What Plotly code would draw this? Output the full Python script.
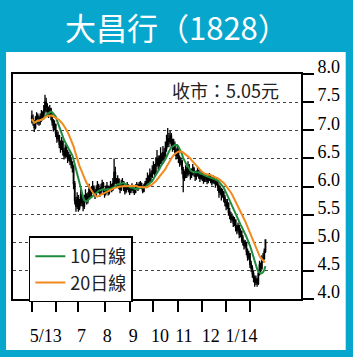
import plotly.graph_objects as go
import pandas as pd

# ---------------- data ----------------
opens = [7.25,7.20,7.15,7.05,7.18,7.25,7.20,7.15,7.22,7.28,7.25,7.35,7.50,7.42,7.35,7.30,7.38,7.25,7.15,7.05,
         7.10,6.95,6.85,6.90,6.75,6.70,6.80,6.62,6.55,6.68,6.60,6.50,6.55,6.45,6.40,6.35,6.05,5.75,5.65,5.80,
         5.62,5.70,5.85,5.72,5.65,5.78,5.85,5.75,5.82,5.95,5.88,5.92,6.00,5.90,5.85,5.95,6.02,5.95,5.90,5.98,
         6.05,5.92,5.88,5.95,6.00,5.90,5.95,6.02,5.95,6.05,6.25,6.10,6.05,6.12,6.00,5.95,6.05,6.08,5.98,5.92,
         5.98,6.02,5.95,5.90,5.96,6.00,5.94,5.90,5.98,6.02,5.97,6.03,6.05,6.00,5.92,6.00,6.05,6.08,6.15,6.10,
         6.22,6.18,6.28,6.35,6.25,6.40,6.50,6.38,6.45,6.55,6.48,6.60,6.55,6.68,6.75,6.85,6.80,6.90,6.78,6.70,
         6.75,6.62,6.55,6.65,6.50,6.42,6.45,6.30,6.15,6.20,6.30,6.22,6.35,6.28,6.20,6.25,6.32,6.25,6.18,6.22,
         6.28,6.20,6.15,6.22,6.18,6.12,6.18,6.15,6.10,6.15,6.18,6.12,6.08,6.14,6.10,6.05,6.10,6.00,5.90,5.95,
         5.85,5.90,5.80,5.72,5.65,5.70,5.55,5.50,5.42,5.45,5.35,5.40,5.28,5.22,5.30,5.15,5.20,5.10,5.02,4.95,
         5.00,4.85,4.75,4.80,4.62,4.55,4.45,4.38,4.30,4.35,4.28,4.45,4.60,4.55,4.70,4.72,4.85]
highs = [7.35,7.28,7.18,7.25,7.32,7.30,7.26,7.30,7.36,7.34,7.45,7.63,7.58,7.48,7.42,7.45,7.40,7.30,7.20,7.18,
         7.12,7.00,6.98,6.92,6.82,6.88,6.82,6.68,6.75,6.72,6.65,6.62,6.58,6.52,6.45,6.38,6.10,5.82,5.90,5.85,
         5.78,5.95,5.90,5.78,5.85,5.95,5.88,5.90,6.05,5.98,6.00,6.10,6.02,5.95,6.02,6.10,6.05,5.98,6.05,6.12,
         6.08,5.96,6.02,6.08,6.02,6.00,6.10,6.05,6.15,6.50,6.35,6.15,6.20,6.15,6.05,6.12,6.15,6.10,6.00,6.04,
         6.08,6.04,5.98,6.02,6.06,6.02,5.97,6.04,6.08,6.05,6.08,6.10,6.07,6.02,6.05,6.10,6.15,6.25,6.20,6.32,
         6.28,6.38,6.45,6.40,6.52,6.65,6.55,6.55,6.70,6.60,6.72,6.68,6.80,6.92,7.04,6.95,7.00,6.95,6.85,6.85,
         6.80,6.68,6.75,6.68,6.55,6.52,6.48,6.35,6.28,6.38,6.35,6.45,6.40,6.32,6.32,6.40,6.35,6.28,6.28,6.35,
         6.30,6.24,6.28,6.25,6.20,6.24,6.22,6.18,6.20,6.24,6.20,6.15,6.20,6.16,6.12,6.15,6.12,6.04,6.02,5.98,
         5.96,5.92,5.85,5.78,5.78,5.72,5.62,5.55,5.52,5.48,5.46,5.42,5.32,5.36,5.32,5.26,5.22,5.14,5.06,5.05,
         5.02,4.90,4.86,4.82,4.68,4.60,4.50,4.42,4.42,4.38,4.52,4.68,4.65,4.78,4.82,4.90,5.05]
lows = [7.12,7.08,6.97,7.02,7.12,7.10,7.08,7.10,7.15,7.18,7.20,7.30,7.32,7.25,7.22,7.25,7.18,7.08,6.98,7.00,
        6.88,6.78,6.80,6.68,6.60,6.65,6.55,6.48,6.50,6.52,6.42,6.45,6.38,6.32,6.25,5.95,5.68,5.55,5.60,5.55,
        5.58,5.65,5.65,5.56,5.60,5.72,5.68,5.70,5.78,5.80,5.82,5.88,5.84,5.78,5.82,5.90,5.88,5.82,5.86,5.94,
        5.86,5.80,5.84,5.90,5.84,5.86,5.92,5.90,5.92,6.00,6.05,5.98,6.00,5.95,5.88,5.92,6.00,5.92,5.86,5.88,
        5.94,5.90,5.85,5.88,5.92,5.88,5.85,5.88,5.95,5.92,5.95,6.00,5.95,5.88,5.90,5.98,6.02,6.05,6.02,6.08,
        6.10,6.15,6.22,6.18,6.22,6.35,6.30,6.32,6.40,6.38,6.45,6.45,6.50,6.62,6.70,6.70,6.75,6.70,6.62,6.65,
        6.55,6.48,6.50,6.42,6.35,6.38,6.22,5.90,6.10,6.15,6.15,6.18,6.22,6.12,6.15,6.20,6.18,6.10,6.12,6.18,
        6.14,6.08,6.12,6.10,6.05,6.08,6.08,6.04,6.06,6.10,6.06,6.02,6.05,6.04,5.98,6.02,5.92,5.80,5.85,5.75,
        5.80,5.72,5.65,5.58,5.60,5.48,5.42,5.35,5.38,5.28,5.30,5.20,5.15,5.18,5.08,5.10,5.02,4.95,4.88,4.90,
        4.78,4.68,4.70,4.55,4.48,4.38,4.30,4.22,4.25,4.22,4.25,4.42,4.48,4.52,4.65,4.70,4.82]
closes = [7.20,7.15,7.05,7.18,7.25,7.20,7.15,7.22,7.28,7.25,7.35,7.50,7.42,7.35,7.30,7.38,7.25,7.15,7.05,7.10,
          6.95,6.85,6.90,6.75,6.70,6.80,6.62,6.55,6.68,6.60,6.50,6.55,6.45,6.40,6.35,6.05,5.75,5.65,5.80,5.62,
          5.70,5.85,5.72,5.65,5.78,5.85,5.75,5.82,5.95,5.88,5.92,6.00,5.90,5.85,5.95,6.02,5.95,5.90,5.98,6.05,
          5.92,5.88,5.95,6.00,5.90,5.95,6.02,5.95,6.05,6.25,6.10,6.05,6.12,6.00,5.95,6.05,6.08,5.98,5.92,5.98,
          6.02,5.95,5.90,5.96,6.00,5.94,5.90,5.98,6.02,5.97,6.03,6.05,6.00,5.92,6.00,6.05,6.08,6.15,6.10,6.22,
          6.18,6.28,6.35,6.25,6.40,6.50,6.38,6.45,6.55,6.48,6.60,6.55,6.68,6.75,6.85,6.80,6.90,6.78,6.70,6.75,
          6.62,6.55,6.65,6.50,6.42,6.45,6.30,6.15,6.20,6.30,6.22,6.35,6.28,6.20,6.25,6.32,6.25,6.18,6.22,6.28,
          6.20,6.15,6.22,6.18,6.12,6.18,6.15,6.10,6.15,6.18,6.12,6.08,6.14,6.10,6.05,6.10,6.00,5.90,5.95,5.85,
          5.90,5.80,5.72,5.65,5.70,5.55,5.50,5.42,5.45,5.35,5.40,5.28,5.22,5.30,5.15,5.20,5.10,5.02,4.95,5.00,
          4.85,4.75,4.80,4.62,4.55,4.45,4.38,4.30,4.35,4.28,4.45,4.60,4.55,4.70,4.72,4.85,5.05]

days = list(range(len(closes)))                      # trading-day index
month_ticks = [0, 20, 39, 61, 82, 102, 122.5, 143, 162.5, 183]   # month boundaries (day index)
label_pos = [11.7, 41.7, 63.3, 85, 107.5, 127.5, 150, 175.8]
label_text = ["5/13", "7", "8", "9", "10", "11", "12", "1/14"]
y_ticks = [4.0, 4.5, 5.0, 5.5, 6.0, 6.5, 7.0, 7.5, 8.0]
y_text = ["4.0", "4.5", "5.0", "5.5", "6.0", "6.5", "7.0", "7.5", "8.0"]

title_text = "大昌行（1828）"
close_text = "收市：5.05元"
ma_names = ["10日線", "20日線"]

# ---------------- figure ----------------
s = pd.Series(closes)
ma10 = s.rolling(10, min_periods=1).mean()
ma20 = s.rolling(20, min_periods=1).mean()

TEAL = "#07a6cd"
GREEN = "#1e8c3c"
ORANGE = "#f28a1e"
SERIF = "Liberation Serif, Times New Roman, serif"
CJK = "Noto Sans CJK TC, Noto Sans, sans-serif"

fig = go.Figure()
fig.add_trace(go.Candlestick(
    x=days, open=opens, high=highs, low=lows, close=closes,
    increasing=dict(line=dict(color="black", width=1.3), fillcolor="black"),
    decreasing=dict(line=dict(color="black", width=1.3), fillcolor="black"),
    whiskerwidth=0, showlegend=False, hoverinfo="skip"))
fig.add_trace(go.Scatter(x=days, y=ma10, mode="lines", name=ma_names[0],
                         line=dict(color=GREEN, width=2)))
fig.add_trace(go.Scatter(x=days, y=ma20, mode="lines", name=ma_names[1],
                         line=dict(color=ORANGE, width=2)))
# carrier trace for the label axis
fig.add_trace(go.Scatter(x=label_pos, y=[None] * len(label_pos), xaxis="x2",
                         mode="markers", showlegend=False, hoverinfo="skip"))

xr = [-15.83, 225.83]
fig.update_layout(
    width=353, height=357,
    margin=dict(l=11, r=52, t=74, b=58),
    paper_bgcolor=TEAL, plot_bgcolor="white",
    showlegend=True,
    xaxis=dict(range=xr, tickvals=month_ticks, showticklabels=False,
               ticks="outside", ticklen=11, tickwidth=2, tickcolor="black",
               showline=True, linewidth=2, linecolor="black", mirror=True,
               showgrid=False, zeroline=False, rangeslider=dict(visible=False)),
    xaxis2=dict(range=xr, overlaying="x", side="bottom", tickvals=label_pos,
                ticktext=label_text, ticks="outside", ticklen=20,
                tickcolor="rgba(0,0,0,0)", showline=False, showgrid=False,
                zeroline=False, tickfont=dict(family=SERIF, size=18, color="black")),
    yaxis=dict(range=[4, 8], side="right", tickvals=y_ticks, ticktext=y_text,
               ticks="outside", ticklen=11, tickwidth=2, tickcolor="black",
               showline=True, linewidth=2, linecolor="black", mirror=True,
               showgrid=True, gridcolor="#444444", griddash="dot", gridwidth=1,
               zeroline=False, ticklabelshift=-7,
               tickfont=dict(family=SERIF, size=18, color="black")),
    legend=dict(x=0.055, y=0.278, xanchor="left", yanchor="top",
                bgcolor="white", bordercolor="black", borderwidth=1.5,
                font=dict(family=CJK, size=18, color="#222"),
                tracegroupgap=0, itemwidth=30),
    shapes=[dict(type="rect", xref="paper", yref="paper",
                 x0=-0.0241, x1=1.1552, y0=-0.2267, y1=1.0978,
                 fillcolor="white", line=dict(width=0), layer="below")],
    annotations=[
        dict(text=title_text, xref="paper", yref="paper", x=0.569, y=1.209,
             xanchor="center", yanchor="middle", showarrow=False,
             font=dict(family=CJK, size=31, color="white")),
        dict(text=close_text, xref="paper", yref="paper", x=0.738, y=0.929,
             xanchor="center", yanchor="middle", showarrow=False,
             font=dict(family=CJK, size=18, color="#222")),
    ],
)
fig.write_html("out.html")
